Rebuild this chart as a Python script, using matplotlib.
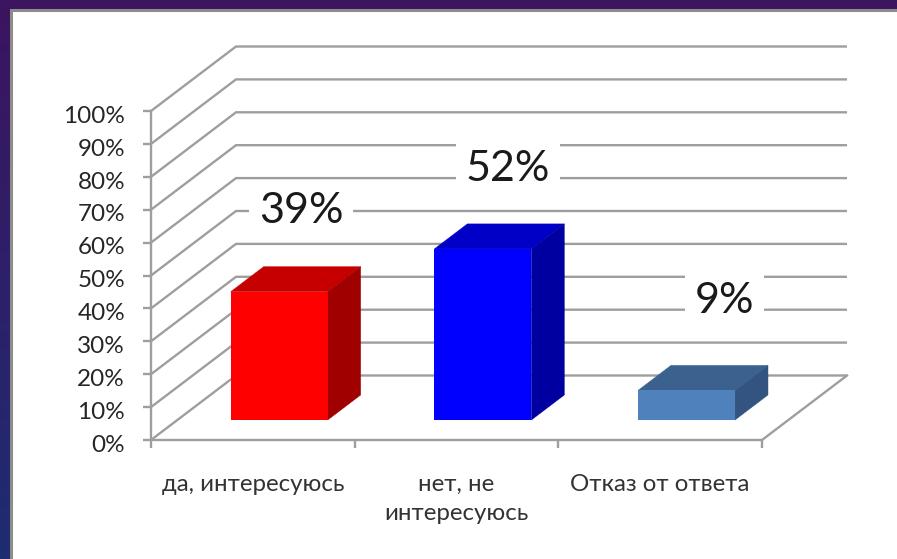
import numpy as np
import matplotlib
matplotlib.use("Agg")
import matplotlib.pyplot as plt
from matplotlib.patches import Polygon, Rectangle

plt.rcParams['font.family'] = ['Lato', 'Open Sans', 'DejaVu Sans']

categories = ["да, интересуюсь", "нет, не\nинтересуюсь", "Отказ от ответа"]
values = [39, 52, 9]
value_labels = ["39%", "52%", "9%"]
bar_colors = ["#FF0000", "#0000FF", "#4F81BD"]
top_colors = ["#C60000", "#0000C6", "#3B618F"]
side_colors = ["#A00000", "#0000A0", "#335480"]
y_ticks = list(range(0, 101, 10))
grid_color = "#9E9E9E"

# hand-placed label offsets from the bar's front-top centre, pixels
label_dx = [22, 25, 38]
label_dy = [81, 80, 89]

W, H = 897, 559
X0, Y0 = 151, 440      # pixel origin of the plot
XU, YU = 203.67, 3.29  # pixels per category, pixels per percent
DX, DY = 85 / XU, 64.5 / YU  # depth vector of the floor, data units

fig = plt.figure(figsize=(W / 100, H / 100), dpi=100)
bg = fig.add_axes([0, 0, 1, 1], zorder=0)
bg.axis("off")
grad = np.linspace(0, 1, 64)[:, None, None]
top_c = np.array([0x3C, 0x14, 0x60])[None, None, :] / 255
bot_c = np.array([0x1E, 0x2C, 0x72])[None, None, :] / 255
bg.imshow(top_c * (1 - grad) + bot_c * grad, aspect="auto", extent=[0, 1, 0, 1])

ax = fig.add_axes([0, 0, 1, 1], zorder=1)
ax.set_xlim(-X0 / XU, (W - X0) / XU)
ax.set_ylim(-(H - Y0) / YU, Y0 / YU)
ax.axis("off")
ax.patch.set_alpha(0)

# white slide panel
px = lambda n: n / XU
py = lambda n: n / YU
ax.add_patch(Rectangle((px(10.5 - X0), py(Y0 - H - 5)), px(W + 5), py(H - 5),
                       fc="white", ec="#8C8C8C", lw=2.2, zorder=1))

n = len(categories)
lw = 1.7
# walls and floor
for t in y_ticks:
    ax.plot([0, DX, n + DX], [t, t + DY, t + DY], color=grid_color, lw=lw,
            solid_joinstyle="miter", solid_capstyle="butt", zorder=2)
    ax.plot([px(-8), 0], [t, t], color=grid_color, lw=lw, solid_capstyle="butt", zorder=2)
    ax.text(px(-26), t - 1.6, f"{t}%", ha="right", va="center", fontsize=17.5,
            color="#262626", zorder=6)
ax.plot([0, 0], [0, 100], color=grid_color, lw=lw, zorder=2)
ax.plot([0, n, n + DX], [0, 0, DY], color=grid_color, lw=lw, zorder=2)
for i in range(n + 1):
    ax.plot([i, i], [0, py(-8)], color=grid_color, lw=lw, solid_capstyle="butt", zorder=2)

# 3D bars
bar_w = 97 / XU
bar_d = 0.388
front = 0.31
for i, (v, c, ct, cs) in enumerate(zip(values, bar_colors, top_colors, side_colors)):
    xl = i + 0.5 - bar_w / 2 + front * DX
    xr = xl + bar_w
    yb = front * DY
    dx, dy = bar_d * DX, bar_d * DY
    ax.add_patch(Polygon([(xl, yb + v), (xr, yb + v), (xr + dx, yb + v + dy), (xl + dx, yb + v + dy)],
                         fc=ct, ec=ct, lw=0.3, zorder=3))
    ax.add_patch(Polygon([(xr, yb), (xr + dx, yb + dy), (xr + dx, yb + v + dy), (xr, yb + v)],
                         fc=cs, ec=cs, lw=0.3, zorder=3))
    ax.add_patch(Rectangle((xl, yb), bar_w, v, fc=c, ec="none", zorder=4))
    # value label
    lx = xl + bar_w / 2 + px(label_dx[i])
    ly = yb + v + py(label_dy[i])
    ax.text(lx, ly, value_labels[i], ha="center", va="center", fontsize=31,
            color="#1A1A1A", zorder=6,
            bbox=dict(fc="white", ec="none", pad=7))
    ax.text(i + 0.5, py(-34), categories[i], ha="center", va="top", fontsize=17.3,
            color="#333333", linespacing=1.5, zorder=6)

fig.savefig("out.png", dpi=100)
